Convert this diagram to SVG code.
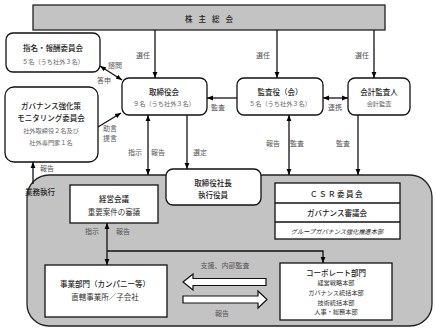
<svg xmlns="http://www.w3.org/2000/svg" width="436" height="331" viewBox="0 0 436 331">
<defs>
<marker id="ah" viewBox="0 0 10 10" refX="10" refY="5" markerWidth="6" markerHeight="6" markerUnits="userSpaceOnUse" orient="auto-start-reverse"><path d="M0,1 L10,5 L0,9 z" fill="#000"/></marker>
</defs>
<style>
text{font-family:"Noto Sans CJK JP","Liberation Sans",sans-serif;text-anchor:middle;dominant-baseline:central}
.t{font-size:7.5px;fill:#222;font-weight:500}
.s{font-size:6.2px;fill:#666}
.l{font-size:7px;fill:#555}
.box{fill:#fff;stroke:#111;stroke-width:1.3}
.c{stroke:#111;stroke-width:1.3;fill:none}
.gray{fill:#c3c3c3;stroke:#222;stroke-width:1.3}
.blk{fill:#fff;stroke:#111;stroke-width:1.2}
</style>
<rect width="436" height="331" fill="#fff"/>

<g id="executive-area">
<path class="gray" d="M49,175 H410 A22,22 0 0 1 432,197 V304 A22,22 0 0 1 410,326 H49 A22,22 0 0 1 27,304 V197 A22,22 0 0 1 49,175 Z"/>
<text class="t" x="40" y="191">業務執行</text>
</g>

<g id="shareholders">
<rect class="gray" x="33" y="5" width="352" height="25"/>
<text class="t" x="212" y="18" letter-spacing="6">株主総会</text>
</g>

<g id="nomination">
<rect class="box" x="6" y="33" width="94" height="39" rx="7"/>
<text class="t" x="53" y="47">指名・報酬委員会</text>
<text class="s" x="53" y="61">５名（うち社外３名）</text>
</g>

<g id="governance-monitoring">
<rect class="box" x="5" y="87" width="93" height="75" rx="9"/>
<text class="t" x="51" y="105">ガバナンス強化策</text>
<text class="t" x="51" y="117">モニタリング委員会</text>
<text class="s" x="51" y="130">社外取締役２名及び</text>
<text class="s" x="51" y="142">社外専門家１名</text>
</g>

<g id="board">
<rect class="box" x="122" y="78" width="85" height="37" rx="7"/>
<text class="t" x="164" y="91">取締役会</text>
<text class="s" x="164" y="103">９名（うち社外３名）</text>
</g>

<g id="auditors">
<rect class="box" x="237" y="78" width="86" height="37" rx="7"/>
<text class="t" x="280" y="91">監査役（会）</text>
<text class="s" x="280" y="103">５名（うち社外３名）</text>
</g>

<g id="accounting-auditor">
<rect class="box" x="348" y="78" width="62" height="37" rx="7"/>
<text class="t" x="379" y="91">会計監査人</text>
<text class="s" x="379" y="103">会計監査</text>
</g>

<g id="president">
<rect class="box" x="166" y="169" width="95" height="36" rx="7"/>
<text class="t" x="213" y="182">取締役社長</text>
<text class="t" x="213" y="194">執行役員</text>
</g>

<g id="management-meeting">
<rect class="box" x="70" y="185" width="88" height="38"/>
<text class="t" x="114" y="198">経営会議</text>
<text class="t" x="114" y="211" style="font-weight:normal;fill:#333">重要案件の審議</text>
</g>

<g id="committees">
<rect class="box" x="275" y="183" width="125" height="56"/>
<line class="c" x1="275" y1="203" x2="400" y2="203"/>
<line class="c" x1="275" y1="222" x2="400" y2="222"/>
<text class="t" x="337" y="193" letter-spacing="1.5">ＣＳＲ委員会</text>
<text class="t" x="337" y="212">ガバナンス審議会</text>
<text class="s" x="337" y="231" style="font-style:italic;fill:#222">グループガバナンス強化推進本部</text>
</g>

<g id="business-units">
<rect class="box" x="45" y="265" width="122" height="52"/>
<text class="t" x="105" y="283">事業部門（カンパニー等）</text>
<text class="t" x="105" y="296" style="font-weight:normal;fill:#333">直轄事業所／子会社</text>
</g>

<g id="corporate">
<rect class="box" x="280" y="263" width="112" height="57"/>
<text class="t" x="336" y="272">コーポレート部門</text>
<text class="s" x="336" y="282" style="fill:#333">経営戦略本部</text>
<text class="s" x="336" y="292" style="fill:#333">ガバナンス統括本部</text>
<text class="s" x="336" y="302" style="fill:#333">技術統括本部</text>
<text class="s" x="336" y="311" style="fill:#333">人事・総務本部</text>
</g>

<g id="connectors">
<path class="c" d="M155,30 V78" marker-end="url(#ah)"/>
<path class="c" d="M277,30 V78" marker-end="url(#ah)"/>
<path class="c" d="M374,30 V78" marker-end="url(#ah)"/>
<path class="c" d="M100,66 L122,80" marker-start="url(#ah)" marker-end="url(#ah)"/>
<path class="c" d="M98,127 L121,113" marker-end="url(#ah)"/>
<path class="c" d="M237,98 H207" marker-end="url(#ah)"/>
<path class="c" d="M323,98 H348" marker-start="url(#ah)" marker-end="url(#ah)"/>
<path class="c" d="M148,115 V175" marker-start="url(#ah)" marker-end="url(#ah)"/>
<path class="c" d="M187,115 V169" marker-end="url(#ah)"/>
<path class="c" d="M289,115 V175" marker-start="url(#ah)" marker-end="url(#ah)"/>
<path class="c" d="M358,115 V175" marker-end="url(#ah)"/>
<path class="c" d="M33,184 V162" marker-end="url(#ah)"/>
<path class="c" d="M107,223 V265" marker-start="url(#ah)" marker-end="url(#ah)"/>
<path class="c" d="M107,251 H323 V263" marker-end="url(#ah)"/>
<polygon class="blk" points="183,282 193,274 193,278.5 266,278.5 266,285.5 193,285.5 193,290"/>
<polygon class="blk" points="183,296 258,296 258,291 267,299.5 258,308 258,303 183,303"/>
<text class="l" x="143" y="55">選任</text>
<text class="l" x="263" y="55">選任</text>
<text class="l" x="362" y="55">選任</text>
<text class="l" x="115" y="65">諮問</text>
<text class="l" x="104" y="80">答申</text>
<text class="l" x="110" y="128">助言</text>
<text class="l" x="110" y="138">提言</text>
<text class="l" x="218" y="107">監査</text>
<text class="l" x="335" y="107">連携</text>
<text class="l" x="135" y="152">指示</text>
<text class="l" x="158" y="152">報告</text>
<text class="l" x="200" y="152">選定</text>
<text class="l" x="273" y="143">報告</text>
<text class="l" x="297" y="143">監査</text>
<text class="l" x="343" y="143">監査</text>
<text class="l" x="47" y="168">報告</text>
<text class="l" x="92" y="231">指示</text>
<text class="l" x="123" y="231">報告</text>
<text class="l" x="225" y="265">支援、内部監査</text>
<text class="l" x="222" y="313">報告</text>
</g>
</svg>
